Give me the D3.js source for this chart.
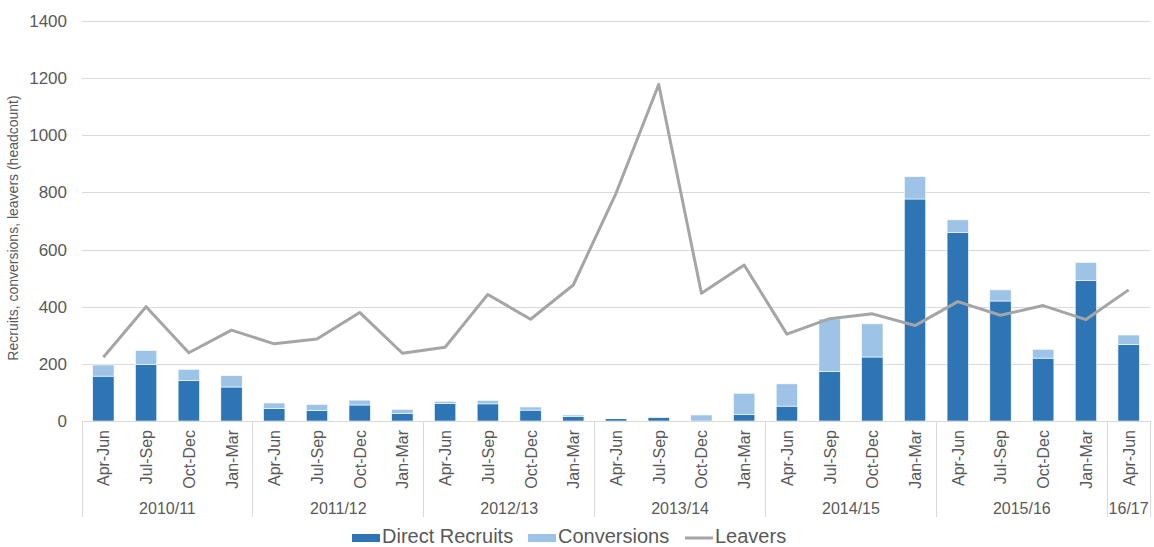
<!DOCTYPE html>
<meta charset="utf-8">
<style>
    body { margin: 0; background: #fff; }
    text { font-family: "Liberation Sans", Arial, sans-serif; fill: #595959; }
    .grid line { stroke: #D9D9D9; stroke-width: 1px; shape-rendering: crispEdges; }
    .sep { stroke: #D9D9D9; stroke-width: 1px; shape-rendering: crispEdges; }
    .leavers { fill: none; stroke: #A5A5A5; stroke-width: 3px; stroke-linejoin: round; }
</style>
<body>
<svg width="1154" height="547"></svg>
<script src="https://d3js.org/d3.v7.min.js"></script>
<script>
    var quarters = ["Apr-Jun", "Jul-Sep", "Oct-Dec", "Jan-Mar"];
    var years = ["2010/11", "2011/12", "2012/13", "2013/14", "2014/15", "2015/16", "16/17"];
    var yearSizes = [4, 4, 4, 4, 4, 4, 1];

    var directRecruits = [157, 198, 141, 119, 44, 37, 56, 26, 61, 60, 38, 15, 8, 12, 0, 22, 52, 174, 224, 777, 659, 420, 220, 491, 268];
    var conversions = [39, 49, 40, 40, 19, 21, 17, 15, 8, 12, 11, 6, 2, 2, 21, 75, 78, 183, 116, 78, 45, 39, 31, 64, 33];
    var leavers = [223, 400, 239, 318, 270, 287, 380, 237, 258, 443, 356, 476, 797, 1178, 447, 546, 304, 358, 375, 334, 418, 370, 404, 355, 459];
    var yTicks = [0, 200, 400, 600, 800, 1000, 1200, 1400];

    var svg = d3.select("svg"),
        margin = { top: 21, right: 4, bottom: 126, left: 82 },
        width = +svg.attr("width") - margin.left - margin.right,
        height = +svg.attr("height") - margin.top - margin.bottom;

    // one row per quarter, labelled by position
    var rows = [];
    years.forEach(function(yr, i) {
        for (var q = 0; q < yearSizes[i]; q++) {
            rows.push({ id: rows.length, quarter: quarters[q], year: yr });
        }
    });
    rows.forEach(function(r, i) {
        r.direct = directRecruits[i];
        r.conv = conversions[i];
        r.leavers = leavers[i];
    });

    var x = d3.scaleBand().domain(rows.map(function(d) { return d.id; })).range([0, width]).paddingInner(0.5).paddingOuter(0.25);
    var y = d3.scaleLinear().domain([0, 1400]).range([height, 0]);

    var g = svg.append("g").attr("transform", "translate(" + margin.left + "," + margin.top + ")");

    g.append("g")
        .attr("class", "grid")
        .call(d3.axisLeft(y).tickValues(yTicks).tickSize(-width).tickFormat(""))
        .call(function(s) { s.select(".domain").remove(); });

    g.append("g")
        .call(d3.axisLeft(y).tickValues(yTicks).tickSize(0).tickPadding(15).tickFormat(d3.format("d")))
        .call(function(s) {
            s.select(".domain").remove();
            s.selectAll("text").style("font-size", "17px").attr("fill", "#595959");
        });

    g.append("text")
        .attr("transform", "rotate(-90)")
        .attr("x", -207)
        .attr("y", -64)
        .attr("text-anchor", "middle")
        .style("font-size", "14px")
        .text("Recruits, conversions, leavers (headcount)");

    var stack = d3.stack().keys(["direct", "conv"])(rows);
    var colors = { direct: "#2E75B6", conv: "#9DC3E6" };

    g.selectAll(".layer")
        .data(stack)
        .enter().append("g")
        .attr("fill", function(d) { return colors[d.key]; })
        .selectAll("rect")
        .data(function(d) { return d; })
        .enter().append("rect")
        .attr("x", function(d) { return x(d.data.id); })
        .attr("width", x.bandwidth())
        .attr("y", function(d) { return y(d[1]); })
        .attr("height", function(d) { return y(d[0]) - y(d[1]); })
        .attr("stroke", "#fff")
        .attr("stroke-width", 0.6);

    var step = x.step();
    var line = d3.line()
        .x(function(d) { return x(d.id) + x.bandwidth() / 2; })
        .y(function(d) { return y(d.leavers); });

    g.append("path").datum(rows).attr("class", "leavers").attr("d", line);

    // category axis
    g.append("line").attr("class", "sep").attr("x1", 0).attr("x2", width).attr("y1", height).attr("y2", height);

    g.selectAll(".qlabel")
        .data(rows)
        .enter().append("text")
        .attr("transform", function(d) {
            return "translate(" + (x(d.id) + x.bandwidth() / 2 + 6) + "," + (height + 9) + ") rotate(-90)";
        })
        .attr("text-anchor", "end")
        .style("font-size", "16px")
        .text(function(d) { return d.quarter; });

    var start = 0, bounds = [0];
    years.forEach(function(yr, i) {
        var x0 = start * step, x1 = (start + yearSizes[i]) * step;
        if (i === years.length - 1) x1 = width;
        g.append("text")
            .attr("x", (x0 + x1) / 2)
            .attr("y", height + 93)
            .attr("text-anchor", "middle")
            .style("font-size", "16px")
            .text(yr);
        start += yearSizes[i];
        bounds.push(x1);
    });

    g.selectAll(".yearsep")
        .data(bounds)
        .enter().append("line")
        .attr("class", "sep")
        .attr("x1", function(d) { return d; })
        .attr("x2", function(d) { return d; })
        .attr("y1", height)
        .attr("y2", height + 96);

    // legend
    var legend = svg.append("g").attr("transform", "translate(0,538)");
    var items = [
        { label: "Direct Recruits", x: 352, type: "rect", color: colors.direct },
        { label: "Conversions", x: 528, type: "rect", color: colors.conv },
        { label: "Leavers", x: 685, type: "line", color: "#A5A5A5" }
    ];
    items.forEach(function(it) {
        if (it.type === "rect") {
            legend.append("rect").attr("x", it.x).attr("y", -4).attr("width", 28).attr("height", 8).attr("fill", it.color);
        } else {
            legend.append("line").attr("x1", it.x).attr("x2", it.x + 28).attr("y1", 0).attr("y2", 0)
                .attr("stroke", it.color).attr("stroke-width", 3);
        }
        legend.append("text").attr("x", it.x + 30).attr("y", 4.5).style("font-size", "20px").text(it.label);
    });
</script>
</body>
